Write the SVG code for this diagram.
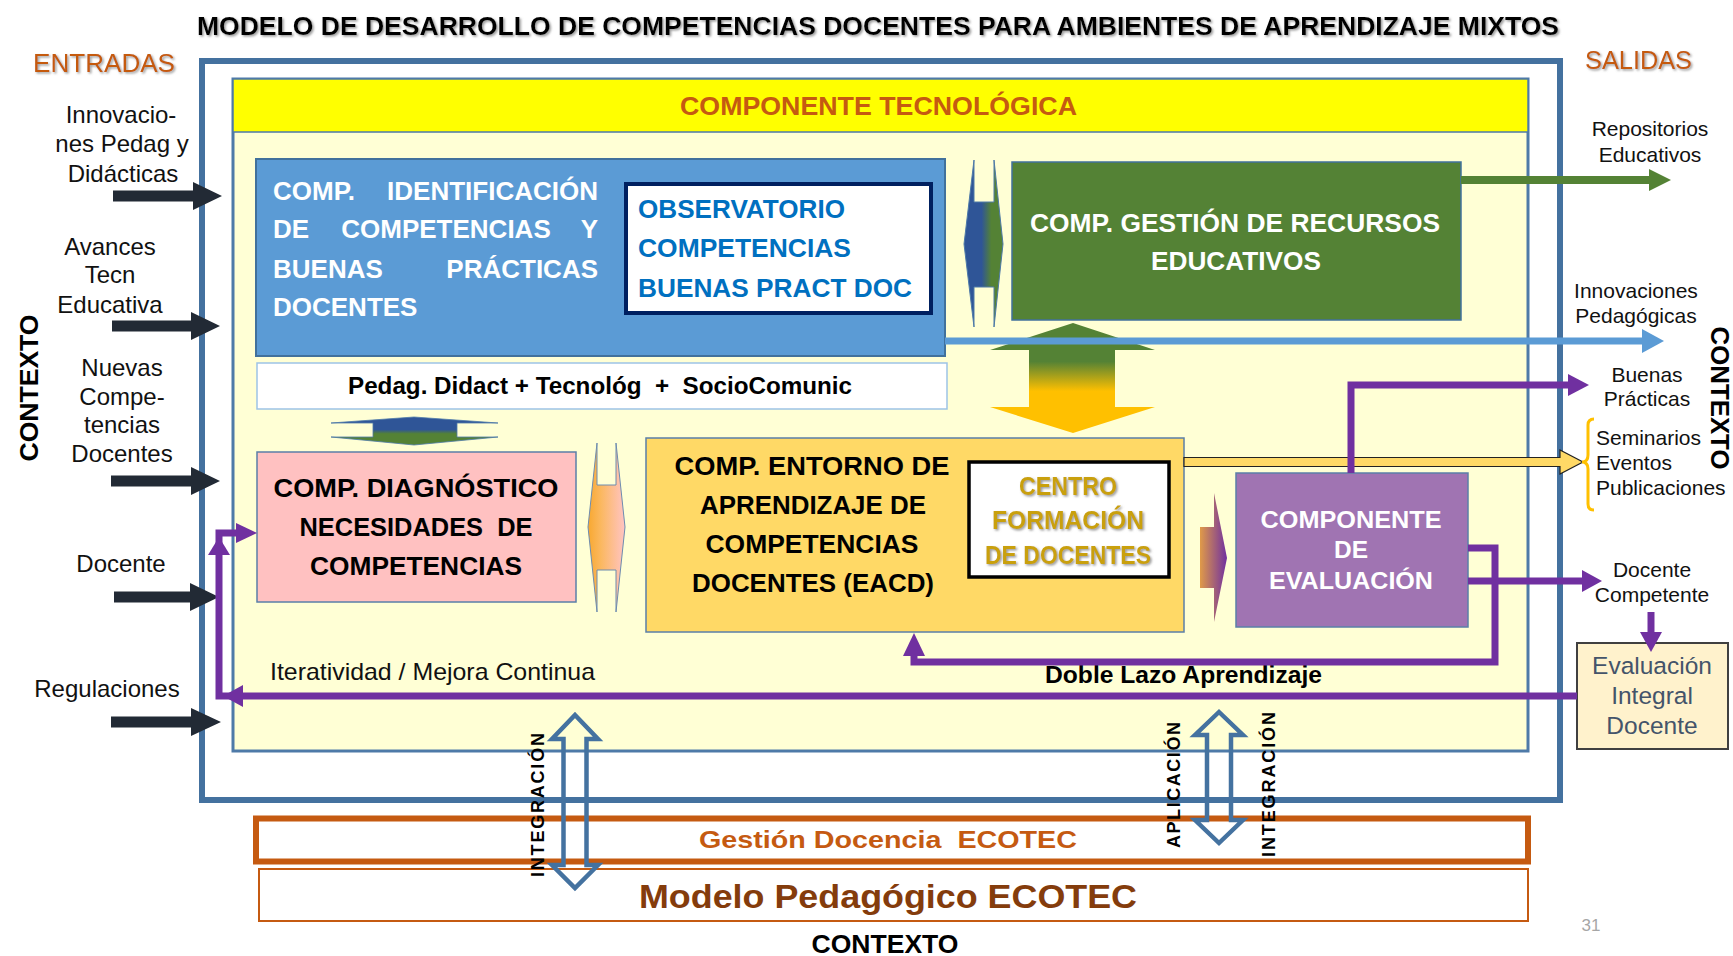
<svg xmlns="http://www.w3.org/2000/svg" width="1733" height="956" viewBox="0 0 1733 956">
<defs>
<style>
text{font-family:"Liberation Sans",Arial,Helvetica,sans-serif}
.b{font-weight:bold}
.in{font-size:24px;fill:#111;text-anchor:middle}
.out{font-size:21px;fill:#111;text-anchor:middle}
.outl{font-size:21px;fill:#111;text-anchor:start}
.wh{fill:#fff;font-weight:bold;font-size:26px}
.blk{fill:#000;font-weight:bold;font-size:25px;text-anchor:middle}
.ctx{font-weight:bold;font-size:26px;fill:#000;text-anchor:middle;dominant-baseline:central}
.rot{font-weight:bold;font-size:18px;fill:#000;text-anchor:middle;dominant-baseline:central}
.inarr{fill:#222a35}
.pl{fill:none;stroke:#7030a0;stroke-width:7}
.pf{fill:#7030a0}
.dbl{fill:none;stroke:#4472a0;stroke-width:4.5;stroke-linejoin:miter}
.bx{stroke:#5b7fa8;stroke-width:1.5}
.pre{white-space:pre}
</style>
<filter id="sh" x="-5%" y="-20%" width="110%" height="150%">
<feDropShadow dx="1.5" dy="1.5" stdDeviation="0.8" flood-color="#7f7f7f" flood-opacity="0.8"/>
</filter>
<linearGradient id="gBG" x1="0" y1="0" x2="1" y2="0">
<stop offset="0" stop-color="#2f5597"/><stop offset="0.45" stop-color="#2f5597"/><stop offset="0.7" stop-color="#548235"/><stop offset="1" stop-color="#548235"/>
</linearGradient>
<linearGradient id="gUD" x1="0" y1="0" x2="0" y2="1">
<stop offset="0" stop-color="#2f5597"/><stop offset="0.45" stop-color="#2f5597"/><stop offset="0.6" stop-color="#548235"/><stop offset="1" stop-color="#548235"/>
</linearGradient>
<linearGradient id="gBig" x1="0" y1="0" x2="0" y2="1">
<stop offset="0" stop-color="#548235"/><stop offset="0.35" stop-color="#548235"/><stop offset="0.62" stop-color="#ffc000"/><stop offset="1" stop-color="#ffc000"/>
</linearGradient>
<linearGradient id="gOP" x1="0" y1="0" x2="1" y2="0">
<stop offset="0" stop-color="#f8a830"/><stop offset="0.35" stop-color="#fbb860"/><stop offset="1" stop-color="#ffc4c4"/>
</linearGradient>
<linearGradient id="gOPu" x1="0" y1="0" x2="1" y2="0">
<stop offset="0" stop-color="#e09a48"/><stop offset="1" stop-color="#7030a0"/>
</linearGradient>
</defs>
<rect x="0" y="0" width="1733" height="956" fill="#fff"/>

<g id="title">
<text x="197" y="35" font-size="25" class="b" textLength="1362" lengthAdjust="spacingAndGlyphs" filter="url(#sh)">MODELO DE DESARROLLO DE COMPETENCIAS DOCENTES PARA AMBIENTES DE APRENDIZAJE MIXTOS</text>
</g>
<g id="entradas-salidas">
<text x="33" y="72" font-size="26" fill="#c55a11" textLength="142" lengthAdjust="spacingAndGlyphs" filter="url(#sh)">ENTRADAS</text>
<text x="1585" y="69" font-size="26" fill="#c55a11" textLength="107" lengthAdjust="spacingAndGlyphs" filter="url(#sh)">SALIDAS</text>
</g>

<g id="frame">
<rect x="202" y="61" width="1358" height="739" fill="none" stroke="#44719f" stroke-width="6"/>
</g>
<g id="inner">
<rect x="233" y="79" width="1295" height="672" fill="#ffffd5" stroke="#4e7aa8" stroke-width="3"/>
</g>
<g id="comp-tecnologica">
<rect x="233" y="79" width="1295" height="53" fill="#ffff00" stroke="#4e7aa8" stroke-width="1.5"/>
<text x="680" y="115" font-size="26" class="b" fill="#c55a11" textLength="397" lengthAdjust="spacingAndGlyphs">COMPONENTE TECNOLÓGICA</text>
</g>

<g id="comp-identificacion">
<rect x="256" y="159" width="689" height="197" fill="#5b9bd5" stroke="#41719c" stroke-width="2"/>
<text class="wh" y="200"><tspan x="273">COMP.</tspan><tspan x="598" text-anchor="end">IDENTIFICACIÓN</tspan></text>
<text class="wh" y="238"><tspan x="273">DE</tspan><tspan x="446" text-anchor="middle">COMPETENCIAS</tspan><tspan x="598" text-anchor="end">Y</tspan></text>
<text class="wh" y="278"><tspan x="273">BUENAS</tspan><tspan x="598" text-anchor="end">PRÁCTICAS</tspan></text>
<text class="wh" y="316" x="273">DOCENTES</text>
</g>
<g id="observatorio">
<rect x="626" y="184" width="305" height="129" fill="#fff" stroke="#002060" stroke-width="4"/>
<text x="638" y="218" font-size="26" class="b" fill="#0070c0" textLength="207" lengthAdjust="spacingAndGlyphs">OBSERVATORIO</text>
<text x="638" y="257" font-size="26" class="b" fill="#0070c0" textLength="213" lengthAdjust="spacingAndGlyphs">COMPETENCIAS</text>
<text x="638" y="297" font-size="26" class="b" fill="#0070c0" textLength="274" lengthAdjust="spacingAndGlyphs">BUENAS PRACT DOC</text>
</g>

<g id="comp-gestion-recursos">
<rect x="1012" y="162" width="449" height="158" fill="#548235" stroke="#41719c" stroke-width="1.5"/>
<text x="1235" y="232" font-size="26" class="b" fill="#fff" text-anchor="middle" textLength="410" lengthAdjust="spacingAndGlyphs">COMP. GESTIÓN DE RECURSOS</text>
<text x="1236" y="270" font-size="26" class="b" fill="#fff" text-anchor="middle" textLength="170" lengthAdjust="spacingAndGlyphs">EDUCATIVOS</text>
</g>

<g id="pedag-bar">
<rect x="257" y="363" width="690" height="46" fill="#fff" stroke="#9dc3e6" stroke-width="1.5"/>
<text x="600" y="394" font-size="23" class="b pre" fill="#000" text-anchor="middle" textLength="504" lengthAdjust="spacingAndGlyphs" xml:space="preserve">Pedag. Didact + Tecnológ  +  SocioComunic</text>
</g>

<g id="comp-diagnostico">
<rect x="257" y="452" width="319" height="150" fill="#ffc1c1" class="bx"/>
<text class="blk" x="416" y="497" textLength="285" lengthAdjust="spacingAndGlyphs">COMP. DIAGNÓSTICO</text>
<text class="blk pre" x="416" y="536" textLength="233" lengthAdjust="spacingAndGlyphs" xml:space="preserve">NECESIDADES  DE</text>
<text class="blk" x="416" y="575" textLength="212" lengthAdjust="spacingAndGlyphs">COMPETENCIAS</text>
</g>

<g id="comp-entorno">
<rect x="646" y="438" width="538" height="194" fill="#ffd966" class="bx"/>
<text class="blk" x="812" y="475" textLength="275" lengthAdjust="spacingAndGlyphs">COMP. ENTORNO DE</text>
<text class="blk" x="813" y="514" textLength="226" lengthAdjust="spacingAndGlyphs">APRENDIZAJE DE</text>
<text class="blk" x="812" y="553" textLength="213" lengthAdjust="spacingAndGlyphs">COMPETENCIAS</text>
<text class="blk" x="813" y="592" textLength="242" lengthAdjust="spacingAndGlyphs">DOCENTES (EACD)</text>
</g>
<g id="centro-formacion">
<rect x="969" y="462" width="200" height="115" fill="#fff" stroke="#000" stroke-width="3.5"/>
<text x="1068" y="495" font-size="25" class="b" fill="#c9a010" text-anchor="middle" textLength="98" lengthAdjust="spacingAndGlyphs" filter="url(#sh)">CENTRO</text>
<text x="1068" y="529" font-size="25" class="b" fill="#c9a010" text-anchor="middle" textLength="152" lengthAdjust="spacingAndGlyphs" filter="url(#sh)">FORMACIÓN</text>
<text x="1068" y="564" font-size="25" class="b" fill="#c9a010" text-anchor="middle" textLength="166" lengthAdjust="spacingAndGlyphs" filter="url(#sh)">DE DOCENTES</text>
</g>

<g id="comp-evaluacion">
<rect x="1236" y="473" width="232" height="154" fill="#a074b2" class="bx"/>
<text x="1351" y="528" font-size="24.5" class="b" fill="#fff" text-anchor="middle" textLength="181" lengthAdjust="spacingAndGlyphs">COMPONENTE</text>
<text x="1351" y="558" font-size="24.5" class="b" fill="#fff" text-anchor="middle">DE</text>
<text x="1351" y="589" font-size="24.5" class="b" fill="#fff" text-anchor="middle" textLength="164" lengthAdjust="spacingAndGlyphs">EVALUACIÓN</text>
</g>

<g id="evaluacion-integral">
<rect x="1577" y="643" width="151" height="106" fill="#fff2cc" stroke="#404040" stroke-width="2"/>
<text x="1652" y="674" font-size="24.5" fill="#44546a" text-anchor="middle">Evaluación</text>
<text x="1652" y="704" font-size="24.5" fill="#44546a" text-anchor="middle">Integral</text>
<text x="1652" y="734" font-size="24.5" fill="#44546a" text-anchor="middle">Docente</text>
</g>

<g id="gestion-docencia">
<rect x="256" y="818.5" width="1272" height="43" fill="#fff" stroke="#c55a11" stroke-width="6"/>
<text x="888" y="848" font-size="24" class="b pre" fill="#c55a11" text-anchor="middle" textLength="378" lengthAdjust="spacingAndGlyphs" xml:space="preserve">Gestión Docencia  ECOTEC</text>
</g>
<g id="modelo-pedagogico">
<rect x="259" y="869" width="1269" height="52" fill="#fff" stroke="#c55a11" stroke-width="2"/>
<text x="888" y="908" font-size="33" class="b" fill="#843c0c" text-anchor="middle" textLength="498" lengthAdjust="spacingAndGlyphs">Modelo Pedagógico ECOTEC</text>
</g>

<g id="entradas-labels">
<text class="in" x="121" y="123">Innovacio-</text>
<text class="in" x="122" y="152">nes Pedag y</text>
<text class="in" x="123" y="182">Didácticas</text>
<text class="in" x="110" y="255">Avances</text>
<text class="in" x="110" y="283">Tecn</text>
<text class="in" x="110" y="313">Educativa</text>
<text class="in" x="122" y="376">Nuevas</text>
<text class="in" x="122" y="405">Compe-</text>
<text class="in" x="122" y="433">tencias</text>
<text class="in" x="122" y="462">Docentes</text>
<text class="in" x="121" y="572">Docente</text>
<text class="in" x="107" y="697">Regulaciones</text>
</g>

<g id="salidas-labels">
<text class="out" x="1650" y="136">Repositorios</text>
<text class="out" x="1650" y="162">Educativos</text>
<text class="out" x="1636" y="298">Innovaciones</text>
<text class="out" x="1636" y="323">Pedagógicas</text>
<text class="out" x="1647" y="382">Buenas</text>
<text class="out" x="1647" y="406">Prácticas</text>
<text class="outl" x="1596" y="445">Seminarios</text>
<text class="outl" x="1596" y="470">Eventos</text>
<text class="outl" x="1596" y="495">Publicaciones</text>
<text class="out" x="1652" y="577">Docente</text>
<text class="out" x="1652" y="602">Competente</text>
</g>

<g id="contexto">
<text class="ctx" transform="translate(29,388) rotate(-90)" textLength="147" lengthAdjust="spacingAndGlyphs">CONTEXTO</text>
<text class="ctx" transform="translate(1720,398) rotate(90)" textLength="143" lengthAdjust="spacingAndGlyphs">CONTEXTO</text>
<text x="885" y="953" font-size="25" class="b" fill="#000" text-anchor="middle" textLength="147" lengthAdjust="spacingAndGlyphs">CONTEXTO</text>
</g>

<g id="loop-labels">
<text x="270" y="680" font-size="24" fill="#111" textLength="325" lengthAdjust="spacingAndGlyphs">Iteratividad / Mejora Continua</text>
<text x="1045" y="683" font-size="24" class="b" fill="#000" textLength="277" lengthAdjust="spacingAndGlyphs">Doble Lazo Aprendizaje</text>
</g>

<g id="vertical-labels">
<text class="rot" transform="translate(537.5,805) rotate(-90)" textLength="144" lengthAdjust="spacing">INTEGRACIÓN</text>
<text class="rot" transform="translate(1173.5,785) rotate(-90)" textLength="126" lengthAdjust="spacing">APLICACIÓN</text>
<text class="rot" transform="translate(1269,784.5) rotate(-90)" textLength="145" lengthAdjust="spacing">INTEGRACIÓN</text>
</g>

<g id="page-number">
<text x="1591" y="931" font-size="17" fill="#a6a6a6" text-anchor="middle">31</text>
</g>

<g id="connectors">
<polygon class="inarr" points="113,190.5 193,190.5 193,182 222,196 193,210 193,201.5 113,201.5"/>
<polygon class="inarr" points="112,320.5 191,320.5 191,312 220,326 191,340 191,331.5 112,331.5"/>
<polygon class="inarr" points="111,475.5 191,475.5 191,467 220,481 191,495 191,486.5 111,486.5"/>
<polygon class="inarr" points="114,591.5 190,591.5 190,583 219,597 190,611 190,602.5 114,602.5"/>
<polygon class="inarr" points="111,716.5 191,716.5 191,708 221,722 191,736 191,727.5 111,727.5"/>

<polygon fill="url(#gBG)" stroke="#4e7aa8" stroke-width="1" points="964,244 974,160 974,202 994,202 994,160 1003,244 994,327 994,287 974,287 974,327"/>
<polygon fill="url(#gUD)" stroke="#4e7aa8" stroke-width="0.8" points="414,417 498,423 457,423 457,437 498,437 414,445 331,437 373,437 373,423 331,423"/>
<polygon fill="url(#gBig)" points="1073,323 1155,350 1115,350 1115,407 1155,407 1073,433 990,407 1029,407 1029,350 990,350"/>
<polygon fill="url(#gOP)" stroke="#6d8cb0" stroke-width="1" points="588,527 597,443 597,485 616,485 616,443 625,527 616,612 616,570 597,570 597,612"/>
<polygon fill="url(#gOPu)" points="1200,527 1214,527 1214,493 1227,558 1214,622 1214,588 1200,588"/>

<line x1="1461" y1="180" x2="1651" y2="180" stroke="#548235" stroke-width="8"/>
<polygon fill="#548235" points="1649,169 1671,180 1649,191"/>
<line x1="945" y1="341" x2="1644" y2="341" stroke="#5b9bd5" stroke-width="7"/>
<polygon fill="#5b9bd5" points="1642,329 1664,341 1642,353"/>
<polygon fill="#ffd966" stroke="#222" stroke-width="1.2" points="1184,457.5 1560,457.5 1560,450 1583,462 1560,474 1560,466.5 1184,466.5"/>
<path d="M1594,419 Q1588,419 1588,425 L1588,455 Q1588,462 1582,462 Q1588,462 1588,469 L1588,504 Q1588,510 1594,510" fill="none" stroke="#ffc000" stroke-width="3"/>

<polyline class="pl" points="1351,473 1351,385 1570,385"/>
<polygon class="pf" points="1568,374 1589,385 1568,396"/>
<polyline class="pl" points="1468,548 1495,548 1495,662 914,662 914,652"/>
<polygon class="pf" points="903,656 914,633 925,656"/>
<line class="pl" x1="1468" y1="581" x2="1584" y2="581"/>
<polygon class="pf" points="1582,570 1602,581 1582,592"/>
<line class="pl" x1="1651" y1="612" x2="1651" y2="634"/>
<polygon class="pf" points="1640,632 1651,652 1662,632"/>
<polyline class="pl" points="1577,696 219,696 219,533 238,533"/>
<polygon class="pf" points="243,685 223,696 243,707"/>
<polygon class="pf" points="208,555 219,537 230,555"/>
<polygon class="pf" points="236,523 257,533 236,543"/>

<polygon class="dbl" points="575,715 598,739 586.5,739 586.5,865 598,865 575,888 552,865 563.5,865 563.5,739 552,739"/>
<polygon class="dbl" points="1219,712 1243,735 1231,735 1231,820 1243,820 1219,843 1195,820 1207,820 1207,735 1195,735"/>
</g>
</svg>
